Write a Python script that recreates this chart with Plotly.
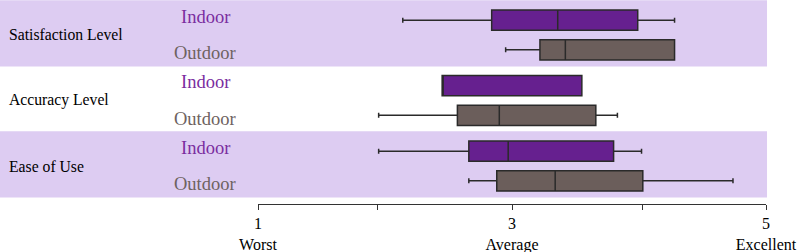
import plotly.graph_objects as go

# ---- data ----
groups = ["Satisfaction Level", "Accuracy Level", "Ease of Use"]
settings = ["Indoor", "Outdoor"]

indoor_lower = [2.14, 2.45, 1.95]
indoor_q1 = [2.84, 2.45, 2.66]
indoor_median = [3.36, 2.45, 2.97]
indoor_q3 = [3.99, 3.55, 3.80]
indoor_upper = [4.28, 3.55, 4.02]

outdoor_lower = [2.95, 1.95, 2.66]
outdoor_q1 = [3.22, 2.57, 2.88]
outdoor_median = [3.42, 2.90, 3.34]
outdoor_q3 = [4.28, 3.66, 4.03]
outdoor_upper = [4.28, 3.83, 4.74]

tick_vals = [1, 1.94, 3, 4.03, 5]
tick_text = ["1<br>Worst", "", "3<br>Average", "", "5<br>Excellent"]

# ---- styles ----
indoor_fill = "#66208F"
outdoor_fill = "#6B5E5B"
indoor_text = "#7A2CA0"
outdoor_text = "#6E6260"
band_color = "#DDCCF2"
line_color = "#2A2A2A"
serif = "Liberation Serif, Times New Roman, serif"
offset = 0.226

fig = go.Figure()

series = [
    ("Indoor", -offset, indoor_fill, indoor_lower, indoor_q1, indoor_median, indoor_q3, indoor_upper),
    ("Outdoor", offset, outdoor_fill, outdoor_lower, outdoor_q1, outdoor_median, outdoor_q3, outdoor_upper),
]
for name, off, fill, lo, q1, med, q3, up in series:
    ys = [i + off for i in range(len(groups))]
    fig.add_trace(go.Box(
        y=ys, orientation="h", name=name,
        lowerfence=lo, q1=q1, median=med, q3=q3, upperfence=up,
        fillcolor=fill, line=dict(color=line_color, width=1.5),
        width=0.31, whiskerwidth=0.25, showlegend=False, hoverinfo="skip",
    ))

shapes = []
annotations = []
for i, g in enumerate(groups):
    if i % 2 == 0:
        shapes.append(dict(type="rect", xref="paper", yref="y",
                           x0=-0.508, x1=1.002, y0=i - 0.53, y1=i + 0.48,
                           fillcolor=band_color, line=dict(width=0), layer="below"))
    annotations.append(dict(text=g, xref="paper", yref="y", x=-0.494, y=i,
                            xanchor="left", yanchor="middle", showarrow=False,
                            font=dict(family=serif, size=15.7, color="black")))
    for s, off, col in [("Indoor", -0.275, indoor_text), ("Outdoor", 0.275, outdoor_text)]:
        annotations.append(dict(text=s, xref="paper", yref="y", x=-0.104, y=i + off,
                                xanchor="center", yanchor="middle", showarrow=False,
                                font=dict(family=serif, size=18.5, color=col)))

fig.update_layout(
    width=797, height=252,
    margin=dict(l=258, r=31, t=0, b=48),
    paper_bgcolor="white", plot_bgcolor="white",
    shapes=shapes, annotations=annotations,
    xaxis=dict(range=[1, 5], tickvals=tick_vals, ticktext=tick_text,
               showgrid=False, zeroline=False, showline=True, automargin=False,
               linecolor="#333333", linewidth=1, ticks="outside", ticklen=5,
               tickcolor="#333333", tickfont=dict(family=serif, size=16, color="black")),
    yaxis=dict(range=[2.58, -0.534], showgrid=False, zeroline=False, automargin=False,
               showticklabels=False, showline=False, ticks=""),
)

fig.write_html("out.html", config={"displayModeBar": False},
               post_script="document.body.style.margin='0px';")
